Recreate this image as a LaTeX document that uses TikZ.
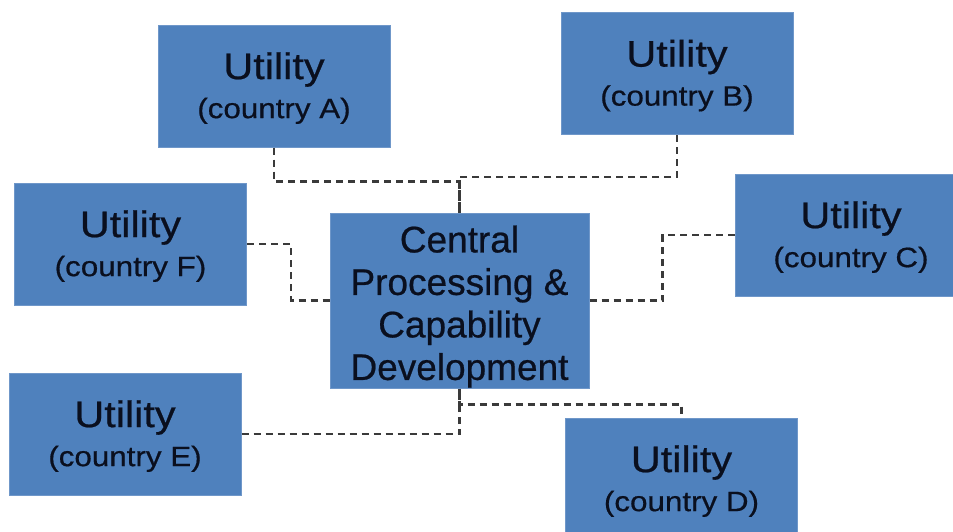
\documentclass[tikz,border=0pt]{standalone}
\usepackage{fontspec}
\setmainfont[FakeBold=0.6]{Liberation Sans}
\newfontfamily\widefont[FakeStretch=1.12,FakeBold=0.6]{Liberation Sans}
\usetikzlibrary{positioning}

\definecolor{boxblue}{HTML}{4F81BD}
\definecolor{boxedge}{HTML}{6F97C9}
\definecolor{linkgray}{HTML}{3A3A3A}
\definecolor{inkblack}{HTML}{0A0F1E}

\tikzset{
  utility/.style={draw=boxedge, line width=1pt, fill=boxblue, text=inkblack,
    minimum width=232pt, minimum height=122pt, inner sep=0pt, align=center,
    font=\widefont\fontsize{28}{39}\selectfont},
  central/.style={draw=boxedge, line width=1pt, fill=boxblue, text=inkblack,
    minimum width=259pt, minimum height=175pt, inner sep=0pt, align=center,
    font=\fontsize{37}{42.5}\selectfont},
  link/.style={draw=linkgray, line width=2.2pt, dash pattern=on 7pt off 5pt}
}
% strut pushes the first line a little lower in the box
\newcommand{\util}[1]{{\fontsize{37}{39}\selectfont\rule{0pt}{31pt}Utility}\\(country #1)}

\begin{document}
\begin{tikzpicture}[x=1pt,y=-1pt]
\useasboundingbox[fill=white] (0,0) rectangle (953,531);
\begin{scope}
\clip (0,0) rectangle (953,531);
% central unit and the six utilities around it
\node[central] (cen) at (459.5,300.5) {\rule{0pt}{39pt}Central\\Processing \&\\Capability\\Development};
\node[utility] (ua) at (274,86) {\util{A}};
\node[utility] (ub) at (677,73.5) {\util{B}};
\node[utility] (uc) at (851,235) {\util{C}};
\node[utility] (ud) at (681.5,479) {\util{D}};
\node[utility] (ue) at (125,434) {\util{E}};
\node[utility] (uf) at (130.5,244) {\util{F}};
% dashed links
\draw[link] (ua.south) -- ++(0,34) -| (cen.north);
\draw[link] (ub.south) -- ++(0,42) -| (cen.north);
\draw[link] (uf.east) -- ++(44,0) |- (cen.west);
\draw[link] (cen.east) -- ++(73,0) |- (uc.west);
\draw[link] (ue.east) -| (cen.south);
\draw[link] (cen.south) -- ++(0,16) -| (ud.north);
\end{scope}
\end{tikzpicture}
\end{document}
